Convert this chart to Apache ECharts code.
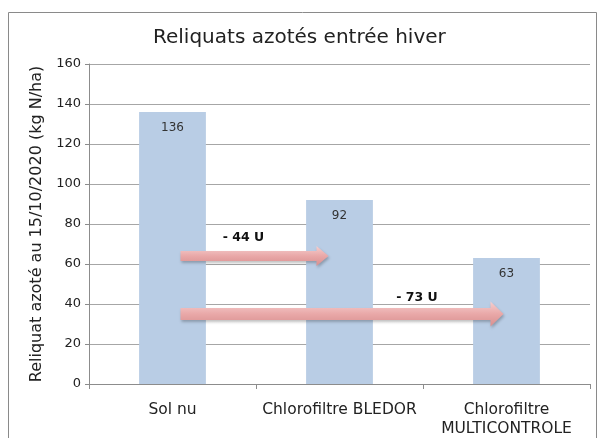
<!DOCTYPE html>
<html><head><meta charset="utf-8">
<script src="https://cdn.jsdelivr.net/npm/echarts@6/dist/echarts.min.js"></script>
<style>html,body{margin:0;padding:0;background:#fff}#c{width:602px;height:438px}</style>
</head><body><div id="c"></div>
<script>
const categories = ['Sol nu', 'Chlorofiltre BLEDOR', 'Chlorofiltre\nMULTICONTROLE'];
const values = [136, 92, 63];
const yTicks = [0, 20, 40, 60, 80, 100, 120, 140, 160];
// arrows: from category, to category, y value, label, label y value
const arrowFrom = [0, 0];
const arrowTo = [1, 2];
const arrowY = [64, 35];
const arrowLabels = ['- 44 U', '- 73 U'];
const arrowLabelY = [73, 44];

const font = 'DejaVu Sans';
const chart = echarts.init(document.getElementById('c'), null, {renderer: 'canvas'});

const arrowData = arrowFrom.map((f, i) => [f, arrowTo[i], arrowY[i], arrowLabels[i], arrowLabelY[i], i]);

chart.setOption({
  animation: false,
  backgroundColor: '#fff',
  title: {
    text: 'Reliquats azotés entrée hiver',
    left: 148, top: 23,
    textStyle: {fontFamily: font, fontSize: 20, fontWeight: 'normal', color: '#222'}
  },
  grid: {left: 89, right: 12, top: 64, bottom: 52},
  xAxis: {
    type: 'category', data: categories,
    axisLine: {lineStyle: {color: '#8c8c8c'}},
    axisTick: {show: true, alignWithLabel: false, length: 5, lineStyle: {color: '#8c8c8c'}},
    axisLabel: {interval: 0, fontFamily: font, fontSize: 15.5, color: '#222', margin: 16, lineHeight: 19}
  },
  yAxis: {
    type: 'value', min: yTicks[0], max: yTicks[yTicks.length - 1], interval: 20,
    name: 'Reliquat azoté au 15/10/2020 (kg N/ha)',
    nameLocation: 'middle', nameGap: 39, nameRotate: 90,
    nameTextStyle: {fontFamily: font, fontSize: 16, color: '#222'},
    axisLine: {show: true, lineStyle: {color: '#8c8c8c'}},
    axisTick: {show: true, length: 4, lineStyle: {color: '#8c8c8c'}},
    axisLabel: {fontFamily: font, fontSize: 13, color: '#222', margin: 8},
    splitLine: {lineStyle: {color: '#a6a6a6'}}
  },
  graphic: [{
    type: 'rect', shape: {x: 8.5, y: 12.5, width: 588, height: 440},
    style: {fill: 'none', stroke: '#8a8a8a', lineWidth: 1}, z: 100
  }],
  series: [{
    type: 'bar', data: values, barWidth: '40%',
    itemStyle: {color: '#b9cde5'},
    label: {show: true, position: 'insideTop', distance: 10,
      fontFamily: font, fontSize: 12, color: '#333'}
  }, {
    type: 'custom', data: arrowData, z: 5,
    renderItem: function (params, api) {
      const i = api.value(5);
      const p0 = api.coord([api.value(0), api.value(2)]);
      const p1 = api.coord([api.value(1), api.value(2)]);
      const lp = api.coord([(api.value(0) + api.value(1)) / 2, api.value(4)]);
      const x0 = p0[0] + 8;
      const x1 = p1[0] - (i === 0 ? 11 : 3);
      const y = p0[1];
      const sh = i === 0 ? 5 : 6;
      const hh = i === 0 ? 10 : 12.5;
      const hl = i === 0 ? 12 : 13;
      const pts = [[x0, y - sh], [x1 - hl, y - sh], [x1 - hl, y - hh], [x1, y], [x1 - hl, y + hh], [x1 - hl, y + sh], [x0, y + sh]];
      return {type: 'group', children: [{
        type: 'polygon', shape: {points: pts},
        style: {
          fill: new echarts.graphic.LinearGradient(0, 0, 0, 1, [
            {offset: 0, color: '#f5cfcf'}, {offset: 0.5, color: '#e9a8a8'}, {offset: 1, color: '#d88f8f'}]),
          shadowBlur: 3, shadowColor: 'rgba(0,0,0,0.25)', shadowOffsetX: 1, shadowOffsetY: 2
        }
      }, {
        type: 'text',
        style: {text: api.value(3), x: i === 0 ? (x0 + x1) / 2 - 11 : (x0 + x1) / 2 + 75, y: lp[1] + (i === 0 ? 0 : 2),
          align: 'center', verticalAlign: 'middle',
          font: 'bold 12.5px "DejaVu Sans"', fill: '#111'}
      }]};
    }
  }]
});
</script></body></html>
